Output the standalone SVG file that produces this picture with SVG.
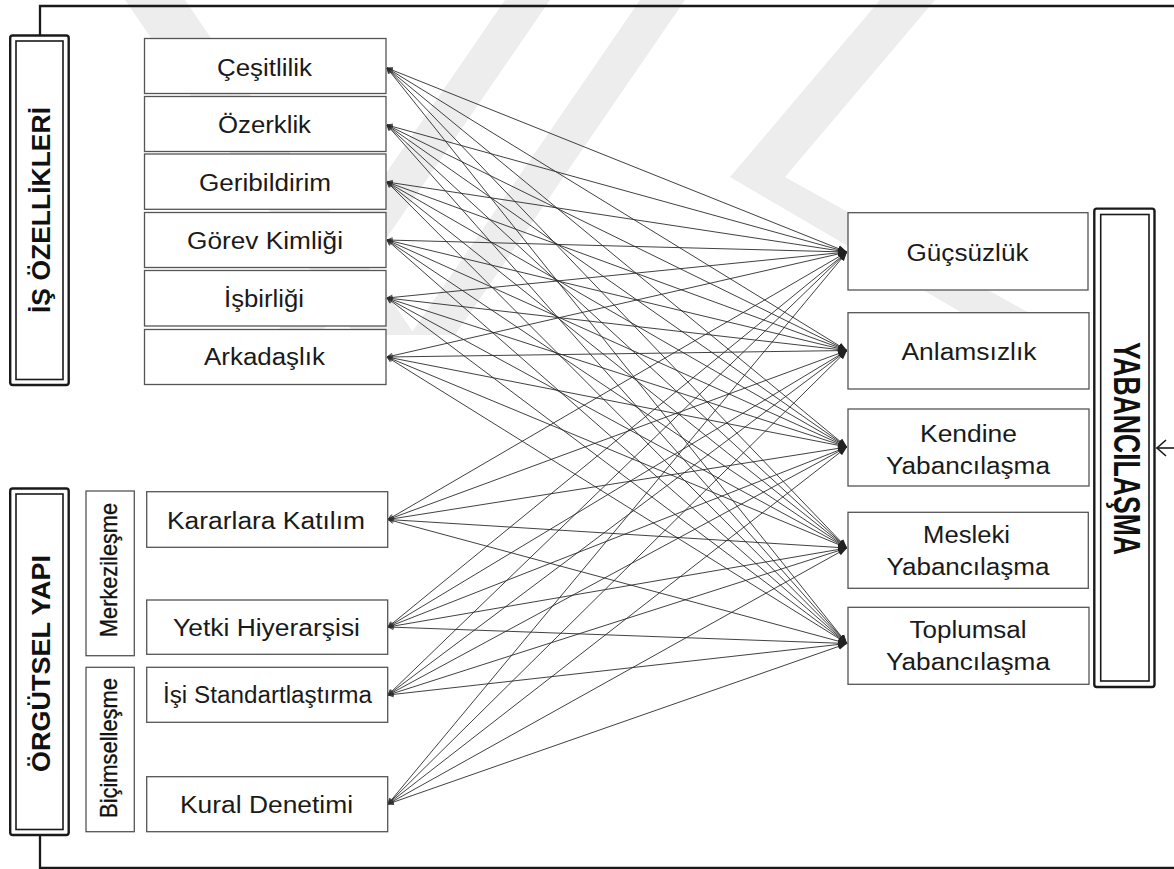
<svg xmlns="http://www.w3.org/2000/svg" width="1174" height="869" viewBox="0 0 1174 869">
<defs>
<style>
.bg{fill:#ffffff}
.wm{fill:#ededed}
.box{fill:#ffffff;stroke:#555555;stroke-width:1.3}
.dbo{fill:#ffffff;stroke:#1a1a1a;stroke-width:2.4}
.dbi{fill:none;stroke:#1a1a1a;stroke-width:1.6}
.lbl{font-family:"Liberation Sans",Arial,sans-serif;font-size:23px;fill:#1a1a1a;text-anchor:middle}
.ttl{font-family:"Liberation Sans",Arial,sans-serif;font-weight:bold;fill:#111111;text-anchor:middle}
.sub{font-family:"Liberation Sans",Arial,sans-serif;font-size:20px;fill:#111111;stroke:#111111;stroke-width:0.3;text-anchor:middle}
.c line{stroke:#2b2b2b;stroke-width:0.9;marker-end:url(#ah);marker-start:url(#as)}
.frame{fill:none;stroke:#1a1a1a;stroke-width:2.3}
</style>
<marker id="ah" markerUnits="userSpaceOnUse" markerWidth="10" markerHeight="8" refX="9" refY="4" orient="auto">
<path d="M0,0.6 L9,4 L0,7.4 Z" fill="#222222"/>
</marker>
<marker id="as" markerUnits="userSpaceOnUse" markerWidth="8" markerHeight="8" refX="0.5" refY="4" orient="auto">
<path d="M6,1.5 L0.5,4 L6,6.5" fill="none" stroke="#2b2b2b" stroke-width="0.8"/>
</marker>
</defs>
<rect class="bg" x="0" y="0" width="1174" height="869"/>
<g id="watermark">
<polygon class="wm" points="125,0 185,0 415,335 355,335"/>
<polygon class="wm" points="505,0 550,0 320,335 275,335"/>
<polygon class="wm" points="640,0 685,0 455,335 410,335"/>
<polygon class="wm" points="880,0 935,0 785,177 1060,330 1000,335 730,177"/>
</g>
<g id="frame">
<path class="frame" d="M40,35 V6 H1180 V868 H40 V835"/>
<line x1="1176" y1="448" x2="1156.5" y2="448" stroke="#1a1a1a" stroke-width="1.6"/>
<path d="M1166,440 L1157,448 L1166,456" fill="none" stroke="#1a1a1a" stroke-width="1.6"/>
</g>
<g id="connectors" class="c">
<line x1="387" y1="68" x2="847" y2="252"/>
<line x1="387" y1="68" x2="847" y2="350.5"/>
<line x1="387" y1="68" x2="847" y2="447"/>
<line x1="387" y1="68" x2="847" y2="548"/>
<line x1="387" y1="68" x2="847" y2="643.5"/>
<line x1="387" y1="125" x2="847" y2="252"/>
<line x1="387" y1="125" x2="847" y2="350.5"/>
<line x1="387" y1="125" x2="847" y2="447"/>
<line x1="387" y1="125" x2="847" y2="548"/>
<line x1="387" y1="125" x2="847" y2="643.5"/>
<line x1="387" y1="182" x2="847" y2="252"/>
<line x1="387" y1="182" x2="847" y2="350.5"/>
<line x1="387" y1="182" x2="847" y2="447"/>
<line x1="387" y1="182" x2="847" y2="548"/>
<line x1="387" y1="182" x2="847" y2="643.5"/>
<line x1="387" y1="240" x2="847" y2="252"/>
<line x1="387" y1="240" x2="847" y2="350.5"/>
<line x1="387" y1="240" x2="847" y2="447"/>
<line x1="387" y1="240" x2="847" y2="548"/>
<line x1="387" y1="240" x2="847" y2="643.5"/>
<line x1="387" y1="298" x2="847" y2="252"/>
<line x1="387" y1="298" x2="847" y2="350.5"/>
<line x1="387" y1="298" x2="847" y2="447"/>
<line x1="387" y1="298" x2="847" y2="548"/>
<line x1="387" y1="298" x2="847" y2="643.5"/>
<line x1="387" y1="357" x2="847" y2="252"/>
<line x1="387" y1="357" x2="847" y2="350.5"/>
<line x1="387" y1="357" x2="847" y2="447"/>
<line x1="387" y1="357" x2="847" y2="548"/>
<line x1="387" y1="357" x2="847" y2="643.5"/>
<line x1="388" y1="519.5" x2="847" y2="252"/>
<line x1="388" y1="519.5" x2="847" y2="350.5"/>
<line x1="388" y1="519.5" x2="847" y2="447"/>
<line x1="388" y1="519.5" x2="847" y2="548"/>
<line x1="388" y1="519.5" x2="847" y2="643.5"/>
<line x1="388" y1="627" x2="847" y2="252"/>
<line x1="388" y1="627" x2="847" y2="350.5"/>
<line x1="388" y1="627" x2="847" y2="447"/>
<line x1="388" y1="627" x2="847" y2="548"/>
<line x1="388" y1="627" x2="847" y2="643.5"/>
<line x1="388" y1="695" x2="847" y2="252"/>
<line x1="388" y1="695" x2="847" y2="350.5"/>
<line x1="388" y1="695" x2="847" y2="447"/>
<line x1="388" y1="695" x2="847" y2="548"/>
<line x1="388" y1="695" x2="847" y2="643.5"/>
<line x1="388" y1="804" x2="847" y2="252"/>
<line x1="388" y1="804" x2="847" y2="350.5"/>
<line x1="388" y1="804" x2="847" y2="447"/>
<line x1="388" y1="804" x2="847" y2="548"/>
<line x1="388" y1="804" x2="847" y2="643.5"/>
</g>
<g id="is-ozellikleri">
<rect class="dbo" x="10.2" y="35.5" width="58.5" height="349.5" rx="2.5"/>
<rect class="dbi" x="16" y="41" width="47" height="338.5"/>
<text class="ttl" font-size="24" textLength="206" lengthAdjust="spacingAndGlyphs" transform="translate(50,210) rotate(-90) scale(1,1.1)">İŞ ÖZELLİKLERİ</text>
</g>
<g id="orgutsel-yapi">
<rect class="dbo" x="10.2" y="488.5" width="58.5" height="346.5" rx="2.5"/>
<rect class="dbi" x="16" y="494" width="47" height="335.5"/>
<text class="ttl" font-size="24" textLength="217" lengthAdjust="spacingAndGlyphs" transform="translate(50,663.5) rotate(-90) scale(1,1.1)">ÖRGÜTSEL YAPI</text>
</g>
<g id="merkezilesme">
<rect class="box" x="86" y="491" width="48.3" height="164.7"/>
<text class="sub" textLength="134" lengthAdjust="spacingAndGlyphs" transform="translate(117,570) rotate(-90) scale(1,1.18)">Merkezileşme</text>
</g>
<g id="bicimsellesme">
<rect class="box" x="86" y="667.3" width="48.3" height="164.4"/>
<text class="sub" textLength="140" lengthAdjust="spacingAndGlyphs" transform="translate(117,748) rotate(-90) scale(1,1.18)">Biçimselleşme</text>
</g>
<g id="cesitlilik">
<rect class="box" x="144.5" y="38.5" width="241.5" height="55"/>
<text class="lbl" x="264.5" y="76" textLength="95" lengthAdjust="spacingAndGlyphs">Çeşitlilik</text>
</g>
<g id="ozerklik">
<rect class="box" x="144.5" y="96.5" width="241.5" height="55"/>
<text class="lbl" x="264.5" y="133" textLength="93" lengthAdjust="spacingAndGlyphs">Özerklik</text>
</g>
<g id="geribildirim">
<rect class="box" x="144.5" y="154" width="241.5" height="55.3"/>
<text class="lbl" x="265" y="190.5" textLength="132" lengthAdjust="spacingAndGlyphs">Geribildirim</text>
</g>
<g id="gorev-kimligi">
<rect class="box" x="144.5" y="212.5" width="241.5" height="55"/>
<text class="lbl" x="265" y="249" textLength="156" lengthAdjust="spacingAndGlyphs">Görev Kimliği</text>
</g>
<g id="isbirligi">
<rect class="box" x="144.5" y="270.5" width="241.5" height="55.5"/>
<text class="lbl" x="264" y="306.5" textLength="80" lengthAdjust="spacingAndGlyphs">İşbirliği</text>
</g>
<g id="arkadaslik">
<rect class="box" x="144.5" y="329.5" width="241.5" height="55"/>
<text class="lbl" x="264.5" y="365" textLength="121" lengthAdjust="spacingAndGlyphs">Arkadaşlık</text>
</g>
<g id="kararlara-katilim">
<rect class="box" x="146.7" y="491.7" width="241" height="55.6"/>
<text class="lbl" x="266" y="529" textLength="198" lengthAdjust="spacingAndGlyphs">Kararlara Katılım</text>
</g>
<g id="yetki-hiyerarsisi">
<rect class="box" x="146.7" y="600" width="241" height="54.3"/>
<text class="lbl" x="266.5" y="635.5" textLength="187" lengthAdjust="spacingAndGlyphs">Yetki Hiyerarşisi</text>
</g>
<g id="isi-standartlastirma">
<rect class="box" x="146.7" y="667.3" width="241" height="55"/>
<text class="lbl" x="267.5" y="703" textLength="209" lengthAdjust="spacingAndGlyphs">İşi Standartlaştırma</text>
</g>
<g id="kural-denetimi">
<rect class="box" x="146.7" y="776.7" width="241" height="55"/>
<text class="lbl" x="266.5" y="812.5" textLength="173" lengthAdjust="spacingAndGlyphs">Kural Denetimi</text>
</g>
<g id="gucsuzluk">
<rect class="box" x="848" y="212.7" width="240" height="77.3"/>
<text class="lbl" x="967.5" y="260.5" textLength="122" lengthAdjust="spacingAndGlyphs">Güçsüzlük</text>
</g>
<g id="anlamsizlik">
<rect class="box" x="848" y="312.7" width="241" height="76.3"/>
<text class="lbl" x="969" y="360" textLength="135" lengthAdjust="spacingAndGlyphs">Anlamsızlık</text>
</g>
<g id="kendine-yabancilasma">
<rect class="box" x="848" y="409" width="241" height="77"/>
<text class="lbl" x="968.5" y="441.5" textLength="97" lengthAdjust="spacingAndGlyphs">Kendine</text>
<text class="lbl" x="968" y="473.5" textLength="164" lengthAdjust="spacingAndGlyphs">Yabancılaşma</text>
</g>
<g id="mesleki-yabancilasma">
<rect class="box" x="848" y="512.3" width="240.3" height="76"/>
<text class="lbl" x="966.5" y="542.5" textLength="87" lengthAdjust="spacingAndGlyphs">Mesleki</text>
<text class="lbl" x="968" y="575" textLength="163" lengthAdjust="spacingAndGlyphs">Yabancılaşma</text>
</g>
<g id="toplumsal-yabancilasma">
<rect class="box" x="848" y="607.3" width="241" height="77"/>
<text class="lbl" x="968" y="637.5" textLength="117" lengthAdjust="spacingAndGlyphs">Toplumsal</text>
<text class="lbl" x="968" y="670" textLength="164" lengthAdjust="spacingAndGlyphs">Yabancılaşma</text>
</g>
<g id="yabancilasma">
<rect class="dbo" x="1094.3" y="208.6" width="60.2" height="478.4" rx="2.5"/>
<rect class="dbi" x="1100.7" y="214.5" width="48.3" height="466.5"/>
<text class="ttl" font-size="26" textLength="213" lengthAdjust="spacingAndGlyphs" transform="translate(1114,448.5) rotate(90) scale(1,1.45)">YABANCILAŞMA</text>
</g>
</svg>
